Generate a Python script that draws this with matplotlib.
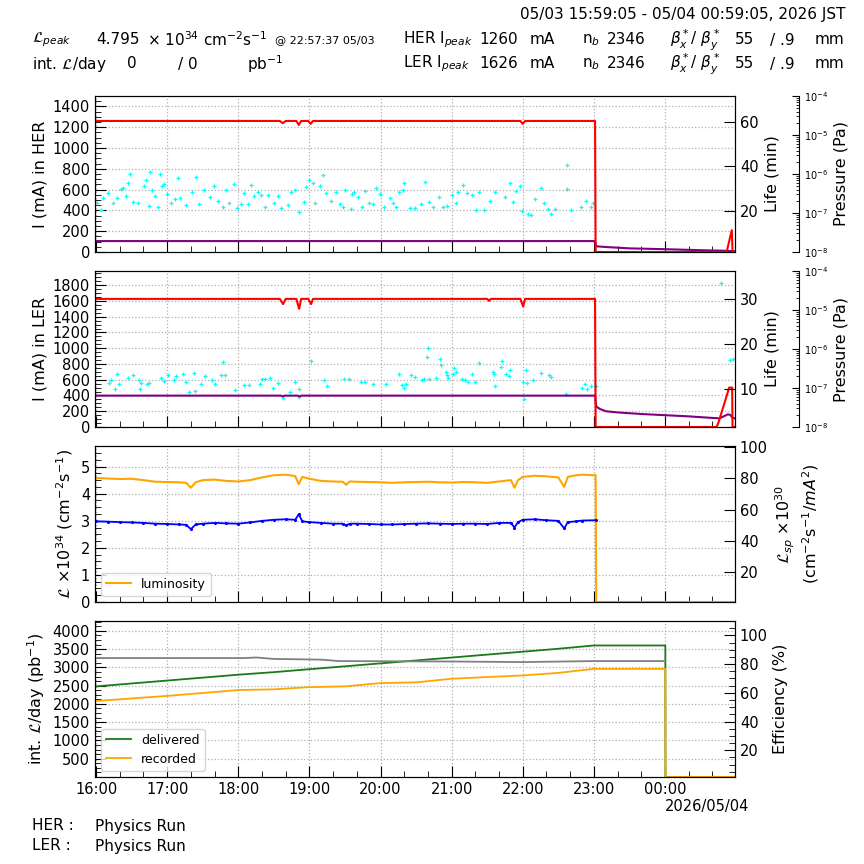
import numpy as np
import pandas as pd
import matplotlib
matplotlib.use('Agg')
import matplotlib.pyplot as plt
import matplotlib.dates as mdates
from matplotlib.ticker import AutoMinorLocator

# time in minutes after 05/03 16:00
base = pd.Timestamp('2026-05-03 16:00:00')
x_start = pd.Timestamp('2026-05-03 15:59:05')
x_end = pd.Timestamp('2026-05-04 00:59:05')

# ---- HER ----
her_t = [0, 155, 157.5, 160, 169, 171, 173, 179, 181, 183, 358, 360, 362, 421, 421.5, 532, 536.4, 537, 539]
her_I = [1260, 1260, 1238, 1260, 1260, 1222, 1260, 1260, 1232, 1260, 1260, 1232, 1260, 1260, 0, 0, 210, 0, 0]
her_p_t = [0, 421, 422, 430, 450, 480, 505, 530, 539]
her_p = [105, 105, 55, 48, 35, 27, 19, 12, 8]
her_dot_t = [1, 6, 4, 10, 14, 18, 21, 22.5, 25.6, 27.3, 29, 31, 35.7, 40.8, 41.7, 45, 45.9, 47, 49.8, 52.6,
             54, 55.4, 57.1, 60, 63.3, 66.7, 69, 71.2, 76, 81, 84.4, 87.2, 90.9, 95.7, 99.9, 102.7, 107,
             109.7, 112.5, 116.2, 119, 122.4, 124.6, 128, 130.3, 133.6, 136.5, 139.3, 142.1, 144.9, 150,
             153.3, 156.1, 161.8, 164.6, 168, 171.6, 175.8, 177.2, 180, 182.9, 184.3, 189.3, 191.3, 194.1,
             198.3, 202.6, 205.4, 208.2, 210.2, 214.7, 215.8, 217.5, 220.9, 224.2, 226.5, 229.9, 233.5,
             236.3, 239.2, 242.8, 247.6, 250.4, 253.2, 255.2, 258.8, 260.2, 264.5, 268.7, 274.3, 277.7,
             280.5, 284.2, 289, 292.6, 296.3, 300.2, 303.8, 305.3, 309.5, 313.1, 317.1, 320.7, 323.5,
             327.2, 332, 336.8, 344.6, 348.9, 351.7, 354.5, 357.3, 359.5, 364.3, 367.1, 370.5, 375, 377.8,
             381.2, 383.5, 386.8, 397.2, 397.5, 400.9, 408.8, 413.6, 417.2, 419.2]
her_dot_v = [470, 520, 400, 567, 475, 518, 607, 616, 541, 659, 754, 485, 469, 633, 692, 443, 774, 593, 534, 430,
             754, 633, 652, 561, 469, 511, 715, 518, 452, 574, 725, 462, 593, 525, 639, 495, 436,
             593, 469, 652, 420, 462, 567, 462, 646, 541, 574, 551, 436, 551, 475,
             534, 420, 452, 574, 593, 387, 485, 626, 692, 666, 475, 633, 738, 567,
             495, 580, 462, 436, 593, 410, 561, 574, 528, 430, 584, 469, 462,
             616, 561, 436, 518, 475, 430, 574, 593, 666, 420, 420, 462, 675,
             479, 436, 528, 430, 443, 551, 475, 580, 649, 567, 548, 403, 574,
             403, 495, 580, 525, 659, 485, 584, 633, 397, 370, 354, 508, 616, 475,
             410, 370, 416, 840, 607, 403, 436, 495, 430, 469]

# ---- LER ----
ler_t = [0, 155, 157.8, 160, 169, 171.3, 173, 179, 181.4, 183, 330, 331.6, 333, 358, 360.3, 362, 421, 421.5,
         523.5, 525, 534.2, 536.7, 537, 539]
ler_I = [1626, 1626, 1560, 1626, 1626, 1500, 1626, 1626, 1560, 1626, 1626, 1600, 1626, 1626, 1530, 1626, 1626, 0,
         0, 50, 500, 500, 0, 0]
ler_p_t = [0, 156, 157.5, 159, 170, 171.6, 173, 421, 422, 425, 430, 440, 460, 480, 500, 520, 526, 533, 535, 537, 539]
ler_p = [398, 398, 388, 398, 398, 388, 398, 398, 260, 230, 200, 185, 165, 150, 135, 115, 110, 160, 155, 115, 110]
ler_dot_t = [11.3, 12.7, 16.1, 17.7, 19.7, 27.3, 31, 36.6, 37.4, 38, 43.1, 45, 54.9, 57.7, 61, 66.1, 67.8, 73.2,
             76, 78, 83, 83.6, 88.6, 92.3, 97.6, 100.4, 105, 107, 108.9, 116.8, 125.2, 128.6, 137.9, 139.8,
             142.6, 147.1, 149.1, 153.3, 157.5, 163.2, 168, 170.8, 171.6, 181.5, 192.7, 194.7, 209, 213,
             223.1, 227, 233.5, 244.8, 256, 258, 259.7, 261.7, 265.3, 268.7, 274.9, 276.6, 278.8, 280,
             280.5, 286.7, 289.8, 290.6, 295.4, 296.3, 296.8, 301, 302.4, 303.8, 308.6, 311.4, 313.7, 317.1,
             319.3, 322.7, 335.1, 335.6, 337, 341.8, 342.7, 345.5, 348, 348.9, 360.1, 361, 362.9, 363.5,
             368.5, 375, 381.8, 383.5, 396.7, 409.9, 412.2, 414.1, 417.8, 422, 527.4, 535, 537]
ler_dot_v = [562, 592, 487, 667, 542, 625, 654, 600, 487, 562, 542, 562, 625, 583, 662, 600, 642, 675,
             571, 446, 687, 454, 542, 642, 592, 542, 654, 821, 654, 467, 529, 529, 550, 612,
             612, 625, 500, 558, 362, 446, 571, 487, 375, 833, 592, 517, 612, 612,
             571, 571, 550, 550, 675, 537, 500, 542, 654, 633, 592, 612, 892, 1000,
             612, 625, 862, 792, 696, 662, 625, 675, 750, 696, 612, 592, 571, 667,
             571, 812, 696, 667, 517, 758, 842, 675, 642, 725, 571, 350, 725, 562,
             592, 683, 662, 633, 425, 500, 550, 487, 521, 517, 1826, 856, 869]

# ---- luminosity ----
lum_t = [0, 10, 20, 30, 40, 50, 60, 70, 76, 80, 84, 90, 100, 110, 120, 130, 140, 150, 160, 168, 171, 174,
         180, 190, 200, 208, 211, 214, 220, 230, 240, 250, 260, 270, 280, 290, 300, 310, 320, 330, 340, 350,
         353, 356, 360, 370, 380, 390, 395, 398, 405, 410, 421.5, 422, 539]
lum = [4.58, 4.56, 4.54, 4.55, 4.50, 4.44, 4.43, 4.42, 4.40, 4.22, 4.42, 4.50, 4.52, 4.47, 4.45, 4.50, 4.60,
       4.68, 4.70, 4.65, 4.35, 4.62, 4.55, 4.47, 4.45, 4.44, 4.33, 4.45, 4.44, 4.43, 4.42, 4.40, 4.42, 4.43,
       4.44, 4.42, 4.41, 4.43, 4.42, 4.40, 4.45, 4.50, 4.22, 4.50, 4.62, 4.66, 4.64, 4.60, 4.25, 4.62, 4.68,
       4.70, 4.68, 0, 0]
lsp = [52.5, 52.3, 52, 51.8, 51.5, 51, 50.8, 50.5, 50.3, 47.5, 50.5, 51, 51.5, 51.2, 51, 51.8, 52.8, 53.5,
       53.8, 53.5, 57, 52.5, 52, 51.5, 51, 51, 50, 51, 51, 50.8, 50.5, 50.5, 50.8, 51, 51.2, 51, 50.8, 51,
       51, 50.8, 51.5, 51.5, 48.5, 52, 53.5, 53.8, 53.2, 52.8, 48, 52, 52.5, 53, 53.2]

# ---- integrated luminosity ----
int_t = [0, 60, 120, 150, 180, 210, 240, 270, 300, 360, 390, 420, 480.3, 480.4, 539]
delivered = [2480, 2640, 2800, 2870, 2950, 3030, 3110, 3190, 3270, 3430, 3510, 3600, 3600, 0, 0]
recorded = [2080, 2220, 2380, 2400, 2460, 2480, 2570, 2590, 2690, 2780, 2850, 2960, 2960, 0, 0]
eff_t = [0, 125, 135, 150, 190, 205, 240, 300, 360, 420, 480]
eff = [84.2, 84.2, 84.6, 83.6, 83.1, 82.1, 82.0, 81.8, 81.4, 82.1, 82.1]


def tt(mins):
    return base + pd.to_timedelta(np.asarray(mins, dtype=float), unit='m')


fig = plt.figure(figsize=(8.64, 8.64), dpi=100)
L, W = 95 / 864, 640 / 864
H = 156 / 864
bottoms = [1 - 252 / 864, 1 - 427 / 864, 1 - 602 / 864, 1 - 777 / 864]
TS = 10.5
LS = 11.5
grid_kw = dict(color='#b0b0b0', linestyle=':', linewidth=0.9)


def style_main(ax, last=False):
    ax.set_xlim(x_start, x_end)
    ax.xaxis.set_major_locator(mdates.HourLocator())
    ax.xaxis.set_minor_locator(mdates.MinuteLocator(byminute=[20, 40]))
    ax.xaxis.set_major_formatter(mdates.DateFormatter('%H:%M'))
    ax.yaxis.set_minor_locator(AutoMinorLocator(4))
    ax.tick_params(which='both', direction='in', labelsize=TS, top=False, right=False)
    ax.tick_params(which='major', length=8)
    ax.tick_params(which='minor', length=4)
    ax.grid(True, which='major', **grid_kw)
    if not last:
        ax.tick_params(labelbottom=False)


def style_twin(ax, lo, hi, ticks, label, minor=False):
    ax.set_ylim(lo, hi)
    ax.set_yticks(ticks)
    if minor:
        ax.yaxis.set_minor_locator(AutoMinorLocator(4))
    ax.tick_params(which='both', direction='in', labelsize=TS)
    ax.tick_params(which='major', length=8)
    ax.tick_params(which='minor', length=4)
    ax.set_ylabel(label, fontsize=LS)


def pressure_axis(ax):
    pa = ax.twinx()
    pa.spines['right'].set_position(('outward', 46))
    for s in ['left', 'top', 'bottom']:
        pa.spines[s].set_visible(False)
    pa.patch.set_visible(False)
    pa.set_yscale('log')
    pa.set_ylim(1e-8, 1e-4)
    pa.tick_params(which='both', direction='in', labelsize=7)
    pa.tick_params(which='major', length=5)
    pa.tick_params(which='minor', length=2.5)
    pa.set_ylabel('Pressure (Pa)', fontsize=LS)
    return pa


# panel 1: HER
ax1 = fig.add_axes([L, bottoms[0], W, H])
ax1.plot(tt(her_dot_t), her_dot_v, '+', color='cyan', ms=3.5, mew=0.9)
ax1.plot(tt(her_p_t), her_p, color='purple', lw=1.5)
ax1.plot(tt(her_t), her_I, color='red', lw=1.5)
ax1.set_ylim(0, 1500)
ax1.set_yticks(np.arange(0, 1401, 200))
style_main(ax1)
ax1.set_ylabel('I (mA) in HER', fontsize=LS)
l1 = ax1.twinx()
style_twin(l1, 1.3, 71.9, [20, 40, 60], 'Life (min)')
pressure_axis(ax1)

# panel 2: LER
ax2 = fig.add_axes([L, bottoms[1], W, H])
ax2.plot(tt(ler_dot_t), ler_dot_v, '+', color='cyan', ms=3.5, mew=0.9)
ax2.plot(tt(ler_p_t), ler_p, color='purple', lw=1.5)
ax2.plot(tt(ler_t), ler_I, color='red', lw=1.5)
ax2.set_ylim(0, 1980)
ax2.set_yticks(np.arange(0, 1801, 200))
style_main(ax2)
ax2.set_ylabel('I (mA) in LER', fontsize=LS)
l2 = ax2.twinx()
style_twin(l2, 1.4, 36.3, [10, 20, 30], 'Life (min)')
pressure_axis(ax2)

# panel 3: luminosity
ax3 = fig.add_axes([L, bottoms[2], W, H])
ax3.plot(tt(lum_t), lum, color='orange', lw=1.5, label='luminosity')
ax3.set_ylim(0, 5.76)
ax3.set_yticks(range(0, 6))
style_main(ax3)
ax3.set_ylabel(r'$\mathcal{L}$ $\times 10^{34}$ (cm$^{-2}$s$^{-1}$)', fontsize=LS)
ax3.legend(loc='lower left', fontsize=9, framealpha=0.8)
r3 = ax3.twinx()
r3.plot(tt(lum_t[:len(lsp)]), lsp, color='blue', lw=1.3, marker='.', ms=2.5)
style_twin(r3, 1.1, 100.5, [20, 40, 60, 80, 100],
           '$\\mathcal{L}_{sp}$ $\\times 10^{30}$\n(cm$^{-2}$s$^{-1}$/$mA^2$)')

# panel 4: integrated luminosity
ax4 = fig.add_axes([L, bottoms[3], W, H])
ax4.plot(tt(int_t), delivered, color='#1a7a1a', lw=1.3, label='delivered')
ax4.plot(tt(int_t), recorded, color='orange', lw=1.3, label='recorded')
ax4.set_ylim(0, 4270)
ax4.set_yticks(np.arange(500, 4001, 500))
style_main(ax4, last=True)
ax4.set_ylabel(r'int. $\mathcal{L}$/day (pb$^{-1}$)', fontsize=LS)
ax4.legend(loc='lower left', fontsize=9, framealpha=0.8)
r4 = ax4.twinx()
r4.plot(tt(eff_t), eff, color='gray', lw=1.3)
style_twin(r4, 1.4, 110, [20, 40, 60, 80, 100], 'Efficiency (%)', minor=True)
fig.text(665 / 864, 1 - 806 / 864, '2026/05/04', fontsize=TS, va='center', ha='left')

# header
hs = 11
fig.text(845 / 864, 1 - 15 / 864, '05/03 15:59:05 - 05/04 00:59:05, 2026 JST', ha='right', fontsize=11,
         va='center')
y1, y2 = 1 - 40 / 864, 1 - 64 / 864
row1 = [(32, r'$\mathcal{L}_{peak}$'), (96, '4.795'), (147, r'$\times$ 10$^{34}$ cm$^{-2}$s$^{-1}$'),
        (403, r'HER I$_{peak}$'), (479, '1260'), (530, 'mA'), (582, r'n$_b$'), (607, '2346'),
        (670, r'$\beta_x^*$/ $\beta_y^*$'), (735, '55'), (770, '/ .9'), (815, 'mm')]
row2 = [(32, r'int. $\mathcal{L}$/day'), (127, '0'), (178, '/ 0'), (247, r'pb$^{-1}$'),
        (403, r'LER I$_{peak}$'), (479, '1626'), (530, 'mA'), (582, r'n$_b$'), (607, '2346'),
        (670, r'$\beta_x^*$/ $\beta_y^*$'), (735, '55'), (770, '/ .9'), (815, 'mm')]
for xp, s in row1:
    fig.text(xp / 864, y1, s, ha='left', fontsize=hs, va='center')
for xp, s in row2:
    fig.text(xp / 864, y2, s, ha='left', fontsize=hs, va='center')
fig.text(275 / 864, y1, '@ 22:57:37 05/03', ha='left', fontsize=8, va='center')

# footer
fig.text(32 / 864, 1 - 826 / 864, 'HER :', fontsize=11, va='center')
fig.text(95 / 864, 1 - 826 / 864, 'Physics Run', fontsize=11, va='center')
fig.text(32 / 864, 1 - 846 / 864, 'LER :', fontsize=11, va='center')
fig.text(95 / 864, 1 - 846 / 864, 'Physics Run', fontsize=11, va='center')

fig.savefig('out.png', dpi=100)
